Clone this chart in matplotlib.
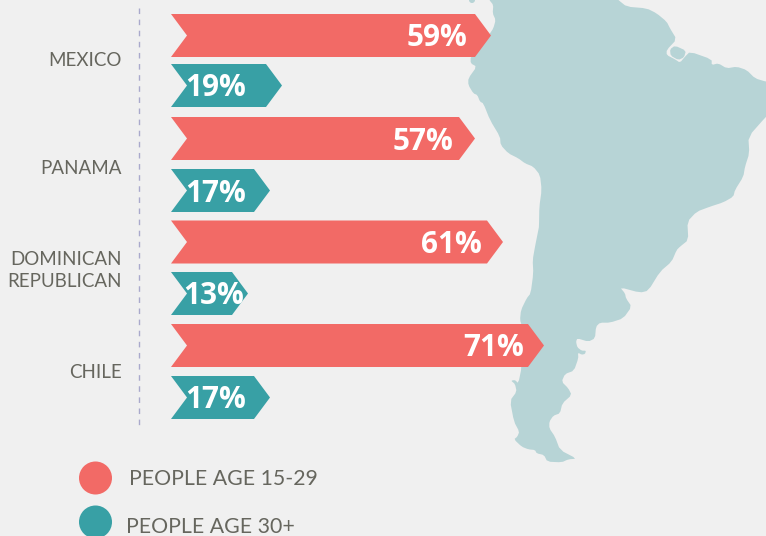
import matplotlib
matplotlib.use("Agg")
import matplotlib.pyplot as plt
from matplotlib.patches import Polygon, Circle

# ---- data ----
countries = ["MEXICO", "PANAMA", "DOMINICAN\nREPUBLICAN", "CHILE"]
age_15_29 = [59, 57, 61, 71]
age_30_plus = [19, 17, 13, 17]
# drawn ribbon lengths (the ribbons are not strictly proportional)
length_15_29 = [320, 304, 332, 373]
length_30_plus = [111, 99, 77, 99]
legend_labels = ["PEOPLE AGE 15-29", "PEOPLE AGE 30+"]

# ---- style / layout ----
BG, RED, TEAL, LAND, GREY = "#F0F0F0", "#F26A66", "#38A0A5", "#B7D4D6", "#66665E"
X0, NOTCH, H = 171, 16, 43
red_y = [35.5, 138.5, 242, 345.5]
teal_y = [85.5, 190.5, 293.5, 397.5]
label_y = [61, 168, 270.5, 373]
red_label_gap = [24, 22, 21, 20]
label_font = "Lato"
value_font = "Open Sans"

# map outline (zoom crop coordinates)
z1 = [(148,-6),(148,0),(160,15),(158,40),(167,60),(160,85),(150,100),(105,170),(92,170),(92,190),(110,200),
      (85,235),(85,255),(100,280),(112,285),(120,305),(130,310),(150,360),(180,410),(182,435),
      (205,460),(235,475),(255,490),(280,500),(300,525),(305,570),(298,620),(297,680)]
z2 = [(295,0),(285,50),(278,90),(280,130),(272,190),(260,205),(243,240),(240,270),(245,285),(245,412),
      (235,460),(225,450),(213,452),(225,462),(230,485),(210,512),(222,575),(238,605),(232,620),
      (222,628),(245,650),(265,658),(285,660),(290,670),(312,675),(322,695),(365,697),(385,688),
      (410,686),(360,660),(345,620),(328,595),(328,575),(340,557),(360,550),(367,520),(395,495),
      (385,475),(365,455),(375,432),(402,422),(415,385),(414,368),(425,374),(435,372),(438,362),(425,362),
      (412,352),(408,335),(412,325),(445,335),(465,325),(468,290),(480,278),(510,278),(550,265),
      (575,230),(558,205),(555,190),(540,172),(600,188),(625,182),(660,125),(695,95),(710,60),(720,50)]
z3 = [(745,720),(742,665),(770,635),(810,620),(850,607),(880,590),(885,570),(910,530),(915,500),
      (928,460),(925,410),(978,350),(990,340),(990,245),(978,245),(945,235),(920,210),(890,200),(860,205),
      (835,190),(815,195),(815,178),(750,155),(735,170),(720,188),(705,178),(680,165),(680,150),
      (710,118),(690,85),(680,65),(650,40),(620,25),(560,20),(535,0),(530,-6)]
island = [(690,148),(705,137),(738,152),(732,172),(715,180),(692,167)]
def c1(p): return [(440 + x/3, y/3) for x, y in p]
def c2(p): return [(440 + x/3, 230 + y/3) for x, y in p]
def smooth(pts):
    out = []
    n = len(pts)
    for i in range(n):
        (x0, y0), (x1, y1) = pts[i], pts[(i+1) % n]
        out += [(0.8*x0+0.2*x1, 0.8*y0+0.2*y1), (0.2*x0+0.8*x1, 0.2*y0+0.8*y1)]
    return out
land = smooth(c1(z1) + c2(z2) + c1(z3))

def chevron(y, length):
    t = H/2
    end = X0 + length
    return [(X0, y-t), (end-NOTCH, y-t), (end, y), (end-NOTCH, y+t), (X0, y+t), (X0+NOTCH, y)]

fig = plt.figure(figsize=(7.66, 5.36), dpi=100, facecolor=BG)
ax = fig.add_axes([0, 0, 1, 1])
ax.set_xlim(0, 766); ax.set_ylim(536, 0); ax.axis("off")

ax.add_patch(Polygon(land, closed=True, fc=LAND, ec="none", zorder=1))
ax.add_patch(Polygon(smooth(c1(island)), closed=True, fc=LAND, ec="none", zorder=1))
ax.add_patch(Circle((472, 0), 3, fc=LAND, ec="none", zorder=1))

ax.plot([138.5, 138.5], [8, 427], color="#A9A9CC", lw=1, dashes=(4, 4), zorder=2)

for i, name in enumerate(countries):
    ax.add_patch(Polygon(chevron(red_y[i], length_15_29[i]), fc=RED, ec="none", zorder=3))
    ax.add_patch(Polygon(chevron(teal_y[i], length_30_plus[i]), fc=TEAL, ec="none", zorder=3))
    ax.text(X0 + length_15_29[i] - red_label_gap[i], red_y[i] - 0.5, f"{age_15_29[i]}%", ha="right", va="center_baseline",
            color="white", fontsize=21.4, fontweight="bold", family=value_font, zorder=4)
    tx = 185.5 if age_30_plus[i] != 13 else 183
    ax.text(tx, teal_y[i] - 0.5, f"{age_30_plus[i]}%", ha="left", va="center_baseline",
            color="white", fontsize=21.4, fontweight="bold", family=value_font, zorder=4)
    ax.text(121.5, label_y[i], name, ha="right", va="center", color=GREY, fontsize=13.5,
            family=label_font, fontweight="regular", linespacing=1.35, zorder=4)

for (cy, col, tx, lab) in zip([478, 522], [RED, TEAL], [129, 126], legend_labels):
    ax.add_patch(Circle((95.5, cy), 16.5, fc=col, ec="none", zorder=3))
    ax.text(tx, cy + (1 if cy == 478 else 5), lab, ha="left", va="center", color=GREY, fontsize=15.35,
            family=label_font, fontweight="regular", zorder=4)

fig.savefig("out.png", dpi=100, facecolor=BG)
